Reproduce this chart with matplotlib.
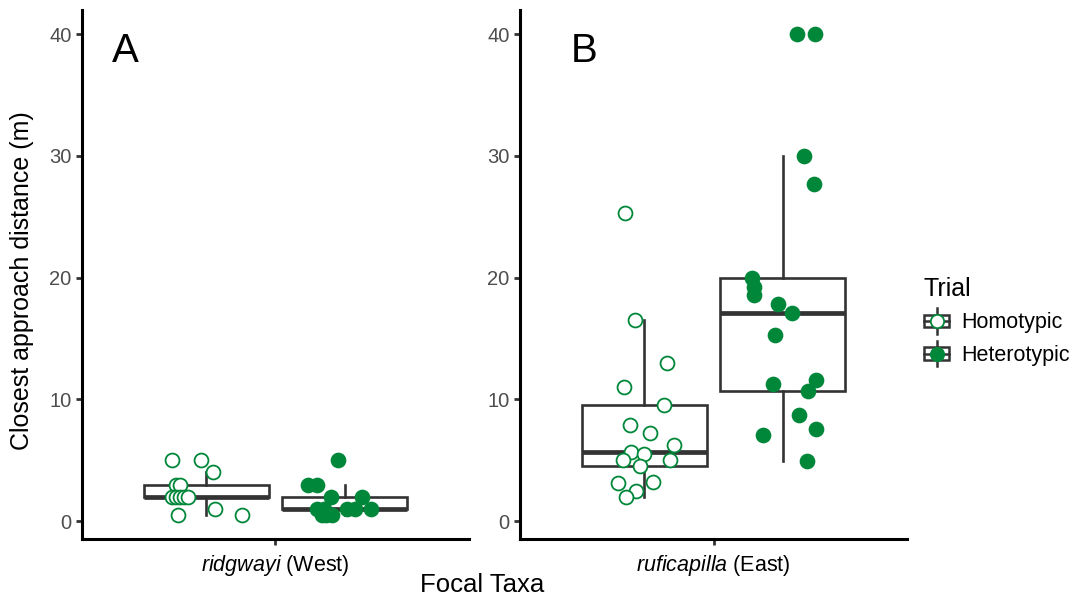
import numpy as np
import matplotlib
matplotlib.use('Agg')
import matplotlib.pyplot as plt
from matplotlib.patches import Rectangle
from matplotlib.lines import Line2D
from matplotlib.legend_handler import HandlerBase

plt.rcParams['font.family'] = 'Liberation Sans'
plt.rcParams['mathtext.fontset'] = 'custom'
plt.rcParams['mathtext.rm'] = 'Liberation Sans'
plt.rcParams['mathtext.it'] = 'Liberation Sans:italic'

# closest approach distances (m), with the horizontal jitter of each point
homo_west = [5, 5, 4, 3, 3, 2, 2, 2, 2, 2, 1, 0.5, 0.5]
homo_west_jit = [-0.107, -0.017, 0.020, -0.095, -0.082, -0.107, -0.095, -0.083, -0.071, -0.058, 0.026, -0.088, 0.110]
het_west = [5, 3, 3, 2, 2, 1, 1, 1, 1, 1, 0.5, 0.5, 0.5]
het_west_jit = [-0.019, -0.112, -0.084, -0.043, 0.053, -0.084, -0.065, 0.009, 0.031, 0.081, -0.071, -0.056, -0.040]

homo_east = [25.3, 16.5, 13.0, 11.0, 9.5, 7.9, 7.2, 6.25, 5.7, 5.5, 5.0, 5.0, 4.5, 3.1, 3.2, 2.5, 2.0]
homo_east_jit = [-0.059, -0.029, 0.070, -0.063, 0.060, -0.044, 0.018, 0.090, -0.041, 0.0, -0.066, 0.078, -0.015, -0.081, 0.025, -0.025, -0.058]
het_east = [40, 40, 30, 27.7, 20, 19.2, 18.6, 17.8, 17.1, 15.3, 11.25, 11.6, 10.7, 8.75, 7.55, 7.05, 4.94]
het_east_jit = [0.046, 0.100, 0.068, 0.097, -0.095, -0.088, -0.089, -0.013, 0.028, -0.023, -0.029, 0.103, 0.080, 0.051, 0.103, -0.061, 0.075]

trials = ['Homotypic', 'Heterotypic']
taxa = [r'$\mathit{ridgwayi}$ (West)', r'$\mathit{ruficapilla}$ (East)']
panel_tags = ['A', 'B']
yticks = [0, 10, 20, 30, 40]

green = '#00873A'
dark = '#333333'

W, H = 1075, 598
fig = plt.figure(figsize=(W / 100, H / 100), dpi=100)
ax_a = fig.add_axes([82 / W, 1 - 539 / H, 387 / W, 529 / H])
ax_b = fig.add_axes([520 / W, 1 - 539 / H, 387 / W, 529 / H])

offset = 0.214
box_w = 0.385


def draw_panel(ax, groups, taxon):
    for (vals, jit, face), pos in zip(groups, [1 - offset, 1 + offset]):
        ax.boxplot(vals, positions=[pos], widths=box_w, whis=1.5,
                   showcaps=False, showfliers=False, patch_artist=True,
                   manage_ticks=False,
                   boxprops=dict(facecolor='white', edgecolor=dark, linewidth=1.9),
                   whiskerprops=dict(color=dark, linewidth=1.9),
                   medianprops=dict(color=dark, linewidth=3.4))
        ax.scatter(pos + np.array(jit), vals, s=100, facecolors=face,
                   edgecolors=green, linewidths=1.3, zorder=3)
    ax.set_xlim(0.4, 1.6)
    ax.set_ylim(-1.475, 41.975)
    ax.set_xticks([1])
    ax.set_xticklabels([taxon])
    ax.set_yticks(yticks)
    for side in ['top', 'right']:
        ax.spines[side].set_visible(False)
    for side in ['left', 'bottom']:
        ax.spines[side].set_linewidth(2.2)
        ax.spines[side].set_color('black')
    ax.tick_params(length=4, width=2, color=dark, labelsize=14.5,
                   labelcolor='#4D4D4D')
    ax.tick_params(axis='x', labelcolor='black', labelsize=15.5, pad=6)


draw_panel(ax_a, [(homo_west, homo_west_jit, 'white'),
                  (het_west, het_west_jit, green)], taxa[0])
draw_panel(ax_b, [(homo_east, homo_east_jit, 'white'),
                  (het_east, het_east_jit, green)], taxa[1])

fig.text(112 / W, 1 - 62 / H, panel_tags[0], fontsize=29, va='baseline')
fig.text(571 / W, 1 - 62 / H, panel_tags[1], fontsize=29, va='baseline')

fig.text(22 / W, 1 - 281 / H, 'Closest approach distance (m)', fontsize=18,
         rotation=90, ha='center', va='center')
fig.text(482 / W, 1 - 585 / H, 'Focal Taxa', fontsize=18.5,
         ha='center', va='center')


class BoxKey(HandlerBase):
    def create_artists(self, legend, orig_handle, xdescent, ydescent,
                       width, height, fontsize, trans):
        cx = -xdescent + width / 2
        cy = -ydescent + height / 2
        bw, bh = width, height * 0.8
        whisker = Line2D([cx, cx], [cy - height * 0.8, cy + height * 0.8],
                         color=dark, lw=1.8)
        box = Rectangle((cx - bw / 2, cy - bh / 2), bw, bh,
                        facecolor='white', edgecolor=dark, lw=1.8)
        mid = Line2D([cx - bw / 2, cx + bw / 2], [cy, cy], color=dark, lw=1.8)
        dot = Line2D([cx], [cy], marker='o', ms=9.6, ls='none',
                     mfc=orig_handle.get_markerfacecolor(), mec=green, mew=1.3)
        arts = [whisker, box, mid, dot]
        for art in arts:
            art.set_transform(trans)
        return arts


handles = [Line2D([], [], marker='o', mfc='white', ls='none'),
           Line2D([], [], marker='o', mfc=green, ls='none')]
fig.legend(handles, trials, title='Trial', handler_map={Line2D: BoxKey()},
           loc='upper left', bbox_to_anchor=(915 / W, 1 - 268 / H),
           frameon=False, fontsize=15.5, title_fontsize=18,
           handlelength=1.2, handleheight=0.75, labelspacing=0.55,
           handletextpad=0.55, alignment='left', borderaxespad=0)

fig.savefig('out.png', dpi=100)
